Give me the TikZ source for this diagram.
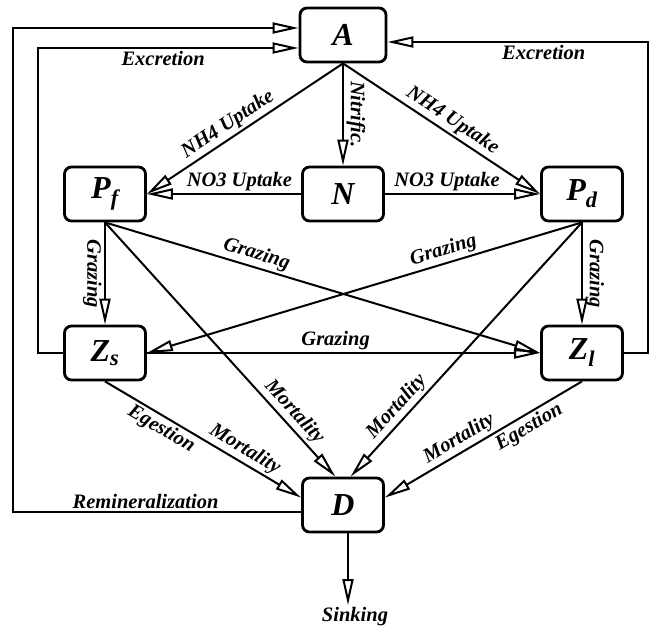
\documentclass[tikz,border=0pt]{standalone}
\usepackage{fontspec}
\setmainfont{Liberation Serif}
\usetikzlibrary{arrows.meta}

\tikzset{
  box/.style={draw, line width=2.8pt, rounded corners=7pt, minimum width=81pt, minimum height=54pt,
    font=\fontsize{32}{36}\selectfont\bfseries\itshape},
  lbl/.style={font=\fontsize{20.5}{24}\selectfont\bfseries\itshape, inner sep=2.5pt},
  flow/.style={line width=2pt, -{Triangle[open, length=26pt, width=11pt]}},
}

\begin{document}
\begin{tikzpicture}[x=1pt,y=-1pt]
  \useasboundingbox (0,0) rectangle (654,629);
  % compartments
  \node[box, minimum width=86pt] (A) at (343,35) {A};
  \node[box] (N) at (343,194) {N};
  \node[box] (Pf) at (105,194) {P\textsubscript{f}};
  \node[box] (Pd) at (582,194) {P\textsubscript{d}};
  \node[box] (Zs) at (105,353) {Z\textsubscript{s}};
  \node[box] (Zl) at (582,353) {Z\textsubscript{l}};
  \node[box] (D) at (343,505) {D};
  \node[lbl] (sink) at (355,617) {Sinking};
  \coordinate (inL) at (38,0);
  \coordinate (outL) at (13,0);
  \coordinate (outR) at (648,0);
  \coordinate (Dout) at ([yshift=-7pt]D.west);
  % uptake
  \draw[flow] (A.south) -- node[lbl, sloped, above, pos=.55] {NH4 Uptake} (Pf.east);
  \draw[flow] (A.south) -- node[lbl, sloped, above, pos=.52] {NH4 Uptake} (Pd.west);
  \draw[flow] (A.south) -- node[lbl, sloped, above] {Nitrific.} (N.north);
  \draw[flow] (N.west) -- node[lbl, above, pos=.4] {NO3 Uptake} (Pf.east);
  \draw[flow] (N.east) -- node[lbl, above, pos=.4] {NO3 Uptake} (Pd.west);
  % grazing
  \draw[flow] (Pf.south) -- node[lbl, sloped, below] {Grazing} (Zs.north);
  \draw[flow] (Pd.south) -- node[lbl, sloped, above] {Grazing} (Zl.north);
  \draw[flow] (Pf.south) -- node[lbl, sloped, above, pos=.34] {Grazing} (Zl.west);
  \draw[flow] (Pd.south) -- node[lbl, sloped, above, pos=.31] {Grazing} (Zs.east);
  \draw[flow] (Zs.east) -- node[lbl, above, pos=.48] {Grazing} (Zl.west);
  % losses to detritus
  \draw[flow] (Pf.south) -- node[lbl, sloped, above, pos=.78] {Mortality} (D.105);
  \draw[flow] (Pd.south) -- node[lbl, sloped, above, pos=.76] {Mortality} (D.75);
  \draw[flow] (Zs.south) -- node[lbl, sloped, below, pos=.32] {Egestion}
    node[lbl, sloped, above, pos=.68] {Mortality} (D.170);
  \draw[flow] (Zl.south) -- node[lbl, sloped, above, pos=.59] {Mortality}
    node[lbl, sloped, below, pos=.3] {Egestion} (D.10);
  % return loops
  \draw[flow] (Zs.west) -- (Zs.west -| inL) |- node[lbl, below, pos=.74] {Excretion} ([yshift=-13pt]A.west);
  \draw[flow] (Zl.east) -- (Zl.east -| outR) |- node[lbl, below, pos=.7] {Excretion} ([yshift=-7pt]A.east);
  \draw[flow] (Dout) -- node[lbl, above, pos=.54] {Remineralization} (Dout -| outL) |- ([yshift=7pt]A.west);
  \draw[flow] ([xshift=5pt]D.south) -- ([xshift=5pt]D.south |- sink.north);
\end{tikzpicture}
\end{document}
